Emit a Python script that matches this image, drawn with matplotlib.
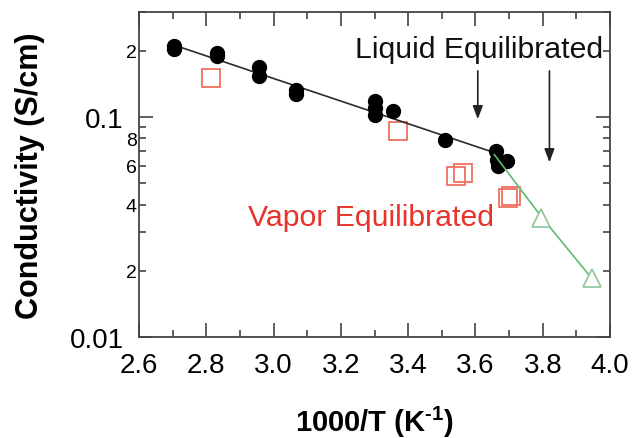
import numpy as np
import matplotlib
matplotlib.use("Agg")
import matplotlib.pyplot as plt
from matplotlib.ticker import MultipleLocator, FixedLocator, FuncFormatter

plt.rcParams['font.family'] = 'Liberation Sans'
plt.rcParams['mathtext.fontset'] = 'custom'
plt.rcParams['mathtext.rm'] = 'Liberation Sans:bold'
plt.rcParams['mathtext.bf'] = 'Liberation Sans:bold'

# liquid equilibrated (filled circles)
liquid_x = [2.705, 2.705, 2.832, 2.832, 2.957, 2.957, 3.067, 3.067,
            3.301, 3.301, 3.301, 3.355, 3.509, 3.660, 3.663, 3.695, 3.666]
liquid_y = [0.210, 0.203, 0.195, 0.189, 0.168, 0.153, 0.132, 0.127,
            0.118, 0.1095, 0.102, 0.106, 0.079, 0.070, 0.064, 0.063, 0.060]

# vapor equilibrated (open squares)
vapor_x = [2.814, 3.371, 3.543, 3.564, 3.698, 3.707]
vapor_y = [0.151, 0.086, 0.0538, 0.0555, 0.0430, 0.0437]

# low temperature points (open triangles)
low_x = [3.796, 3.946]
low_y = [0.0349, 0.01845]

# fit lines
fit_x = [2.705, 3.662]
fit_y = [0.212, 0.0684]
green_x = [3.656, 3.796, 3.946]
green_y = [0.0675, 0.0352, 0.01845]

# arrows: x position, tail y, head y
arrow_x = [3.607, 3.820]
arrow_tail = [0.162, 0.162]
arrow_head = [0.0976, 0.0622]

fig = plt.figure(figsize=(6.33, 4.39), dpi=100)
ax = fig.add_axes([139/633, 1 - 338/439, 471/633, 325/439])

ax.plot(vapor_x, vapor_y, 's', ms=12.5, mfc='none', mec='#f0705f', mew=1.3, zorder=2)
ax.plot(fit_x, fit_y, '-', color='#2a2a2a', lw=1.2, zorder=3)
ax.plot(liquid_x, liquid_y, 'o', ms=10, color='black', zorder=4)
ax.plot(green_x, green_y, '-', color='#5cbd6c', lw=1.2, zorder=5)
ax.plot(low_x, low_y, '^', ms=13, mfc='white', mec='#8cc699', mew=1.2, zorder=6)

for xa, yt, yh in zip(arrow_x, arrow_tail, arrow_head):
    ax.annotate('', xy=(xa, yh), xytext=(xa, yt),
                arrowprops=dict(arrowstyle='-|>,head_length=0.4,head_width=0.15',
                                color='#222222', lw=1.2, mutation_scale=20,
                                shrinkA=0, shrinkB=0))

ax.text(3.2415, 0.1867, 'Liquid Equilibrated', fontsize=21.8, color='#111111',
        ha='left', va='baseline')
ax.text(2.924, 0.0322, 'Vapor Equilibrated', fontsize=21.8, color='#e8332b',
        ha='left', va='baseline')

ax.set_yscale('log')
ax.set_xlim(2.6, 4.0)
ax.set_ylim(0.01, 0.3)

ax.xaxis.set_major_locator(MultipleLocator(0.2))
ax.xaxis.set_minor_locator(MultipleLocator(0.1))
ax.xaxis.set_major_formatter(FuncFormatter(lambda v, p: f'{v:.1f}'))

ax.yaxis.set_major_locator(FixedLocator([0.01, 0.1]))
ax.yaxis.set_major_formatter(FuncFormatter(lambda v, p: f'{v:g}'))
minor_y = [k * 0.01 for k in range(2, 10)] + [0.2, 0.3]
ax.yaxis.set_minor_locator(FixedLocator(minor_y))
minor_labels = {0.02: '2', 0.04: '4', 0.06: '6', 0.08: '8', 0.2: '2'}
ax.yaxis.set_minor_formatter(FuncFormatter(
    lambda v, p: next((s for k, s in minor_labels.items() if abs(k - v) < 1e-9), '')))

spine_col = '#444444'
for s in ax.spines.values():
    s.set_color(spine_col)
    s.set_linewidth(1.3)

ax.tick_params(which='both', direction='in', top=True, right=True,
               color=spine_col, width=1.2)
ax.tick_params(which='major', length=10, labelsize=20, pad=11)
ax.tick_params(which='minor', length=5)
ax.tick_params(axis='y', which='minor', labelsize=14, pad=1.5)

ax.set_xlabel(r'1000/T (K$^{\text{-1}}$)', fontsize=21, fontweight='bold')
ax.set_ylabel('Conductivity (S/cm)', fontsize=22, fontweight='bold')
ax.xaxis.set_label_coords(0.5, -0.205)
ax.yaxis.set_label_coords(-0.2, 0.5)

fig.savefig('out.png', dpi=100)
